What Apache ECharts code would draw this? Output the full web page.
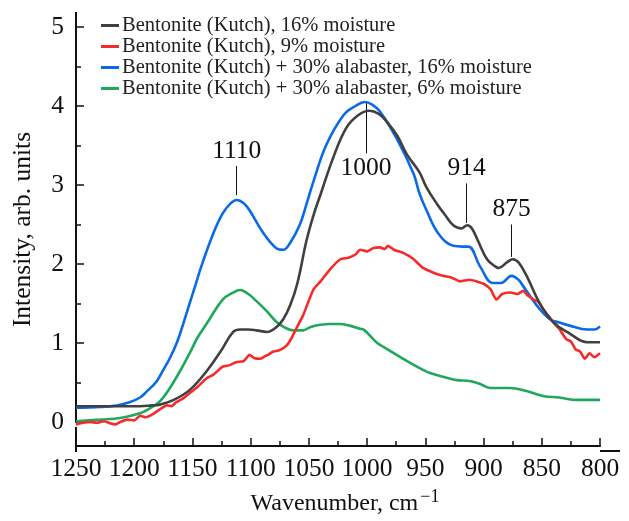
<!DOCTYPE html>
<html>
<head>
<meta charset="utf-8">
<script src="https://cdn.jsdelivr.net/npm/echarts@6/dist/echarts.min.js"></script>
<style>
  html, body { margin: 0; padding: 0; background: #fff; }
  #chart { width: 629px; height: 521px; }
</style>
</head>
<body>
<div id="chart"></div>
<script>
// series names
const seriesNames = [
  'Bentonite (Kutch), 16% moisture',
  'Bentonite (Kutch), 9% moisture',
  'Bentonite (Kutch) + 30% alabaster, 16% moisture',
  'Bentonite (Kutch) + 30% alabaster, 6% moisture',
];

// Bentonite 16% moisture (dark grey)
const kutch16Wn = [1250, 1230, 1210, 1195, 1185, 1178, 1166, 1152, 1138, 1126, 1115, 1109, 1102, 1095, 1086, 1078, 1072, 1066, 1060, 1052, 1046, 1040, 1029, 1018, 1008, 998, 990, 983, 974, 966, 955, 949, 940, 933, 926, 919, 914, 910, 905, 897, 890, 887, 880, 875, 870, 863, 852, 840, 826, 811, 800];
const kutch16Val = [0.20, 0.20, 0.20, 0.20, 0.21, 0.22, 0.28, 0.41, 0.64, 0.89, 1.14, 1.17, 1.17, 1.16, 1.14, 1.20, 1.30, 1.48, 1.75, 2.30, 2.62, 2.88, 3.35, 3.72, 3.88, 3.94, 3.90, 3.80, 3.62, 3.39, 3.16, 2.97, 2.76, 2.62, 2.49, 2.45, 2.49, 2.45, 2.30, 2.06, 1.97, 1.95, 2.02, 2.06, 2.02, 1.85, 1.51, 1.26, 1.12, 1.01, 1.01];

// Bentonite 9% moisture (red, noisy)
const kutch9Wn = [1250, 1244, 1238, 1232, 1226, 1220, 1216, 1212, 1206, 1200, 1195, 1190, 1184, 1178, 1172, 1168, 1164, 1158, 1152, 1146, 1138, 1132, 1124, 1118, 1112, 1106, 1101, 1097, 1092, 1088, 1084, 1081, 1075, 1069, 1065, 1061, 1055, 1046, 1040, 1032, 1023, 1016, 1010, 1006, 1000, 995, 989, 985, 982, 977, 969, 960, 952, 943, 935, 928, 920, 912, 906, 900, 894, 889, 884, 877, 871, 866, 862, 857, 853, 849, 844, 840, 835, 829, 825, 821, 817, 813, 809, 805, 800];
const kutch9Val = [-0.03, -0.01, 0.00, -0.01, 0.01, -0.02, -0.03, 0.00, 0.03, 0.02, 0.08, 0.06, 0.10, 0.16, 0.21, 0.20, 0.25, 0.30, 0.37, 0.44, 0.55, 0.60, 0.70, 0.72, 0.76, 0.77, 0.85, 0.81, 0.80, 0.83, 0.86, 0.89, 0.91, 0.97, 1.06, 1.18, 1.35, 1.68, 1.78, 1.93, 2.06, 2.08, 2.12, 2.18, 2.16, 2.20, 2.21, 2.19, 2.23, 2.18, 2.14, 2.06, 1.95, 1.89, 1.85, 1.83, 1.78, 1.80, 1.78, 1.75, 1.68, 1.55, 1.62, 1.64, 1.62, 1.66, 1.60, 1.55, 1.52, 1.43, 1.34, 1.26, 1.18, 1.05, 1.02, 0.92, 0.89, 0.80, 0.87, 0.82, 0.87];

// Bentonite + 30% alabaster, 16% moisture (blue)
const alab16Wn = [1250, 1229, 1215, 1204, 1195, 1189, 1181, 1175, 1169, 1163, 1158, 1149, 1141, 1132, 1124, 1117, 1112, 1106, 1101, 1089, 1078, 1072, 1066, 1058, 1052, 1046, 1035, 1020, 1010, 1002, 996, 989, 975, 960, 955, 949, 939, 926, 918, 913, 903, 892, 885, 876, 870, 866, 854, 843, 835, 826, 811, 805, 800];
const alab16Val = [0.18, 0.19, 0.21, 0.25, 0.31, 0.39, 0.51, 0.66, 0.82, 1.02, 1.24, 1.66, 2.03, 2.39, 2.64, 2.77, 2.81, 2.77, 2.68, 2.39, 2.20, 2.18, 2.27, 2.49, 2.76, 3.05, 3.51, 3.89, 4.00, 4.05, 4.02, 3.93, 3.60, 3.14, 2.89, 2.68, 2.39, 2.23, 2.22, 2.22, 1.97, 1.76, 1.76, 1.85, 1.80, 1.72, 1.47, 1.30, 1.26, 1.22, 1.17, 1.17, 1.21];

// Bentonite + 30% alabaster, 6% moisture (green)
const alab6Wn = [1250, 1229, 1212, 1195, 1188, 1178, 1166, 1152, 1146, 1138, 1124, 1116, 1109, 1102, 1095, 1086, 1078, 1070, 1063, 1055, 1049, 1040, 1032, 1024, 1015, 1006, 1003, 998, 992, 986, 969, 952, 946, 929, 923, 912, 903, 894, 877, 865, 849, 835, 820, 800];
const alab6Val = [0.01, 0.03, 0.05, 0.11, 0.16, 0.26, 0.51, 0.88, 1.06, 1.24, 1.55, 1.63, 1.67, 1.62, 1.53, 1.40, 1.27, 1.19, 1.16, 1.16, 1.20, 1.23, 1.24, 1.24, 1.22, 1.18, 1.17, 1.10, 1.01, 0.95, 0.80, 0.66, 0.62, 0.55, 0.53, 0.52, 0.48, 0.43, 0.43, 0.40, 0.33, 0.31, 0.28, 0.28];

// peak annotations: label, wavenumber, leader line from/to (intensity)
const peakLabels = ['1110', '1000', '914', '875'];
const peakWn = [1112, 1001, 914.6, 875.8];
const peakFrom = [2.87, 4.04, 2.52, 2.09];
const peakTo = [3.24, 3.40, 3.02, 2.50];
const peakSeries = [2, 2, 0, 0];

const colors = ['#404040', '#f52a2a', '#0a6ae6', '#1fa85c'];
const wnLists = [kutch16Wn, kutch9Wn, alab16Wn, alab6Wn];
const valLists = [kutch16Val, kutch9Val, alab16Val, alab6Val];

const font = 'Liberation Serif';
const grid = { left: 76, right: 29, top: 27, bottom: 94 };
const W = 629, H = 521;
const axisY = H - grid.bottom + 24;

const chart = echarts.init(document.getElementById('chart'), null, { renderer: 'canvas' });

const series = seriesNames.map((name, i) => {
  const marks = peakLabels
    .map((lab, k) => ({ lab, k }))
    .filter(p => peakSeries[p.k] === i)
    .map(p => [
      { coord: [peakWn[p.k], peakFrom[p.k]] },
      { coord: [peakWn[p.k], peakTo[p.k]], label: { formatter: p.lab } },
    ]);
  return {
    name,
    type: 'line',
    data: wnLists[i].map((x, j) => [x, valLists[i][j]]),
    showSymbol: false,
    smooth: i === 1 ? 0.2 : 0.4,
    clip: false,
    color: colors[i],
    lineStyle: { width: 2.6, color: colors[i] },
    z: 10 - i,
    markLine: marks.length ? {
      silent: true,
      symbol: 'none',
      animation: false,
      lineStyle: { color: '#111', width: 1, type: 'solid' },
      label: {
        position: 'end',
        distance: 2,
        fontFamily: font,
        fontSize: 25.5,
        color: '#111',
      },
      data: marks,
    } : undefined,
  };
});

chart.setOption({
  animation: false,
  textStyle: { fontFamily: font },
  grid: grid,
  legend: {
    orient: 'vertical',
    left: 96,
    top: 10,
    itemWidth: 18,
    itemHeight: 3,
    itemGap: 0,
    icon: 'rect',
    textStyle: { fontFamily: font, fontSize: 20.5, color: '#222', lineHeight: 21, padding: [0, 0, 0, -2] },
    data: seriesNames,
  },
  xAxis: {
    type: 'value',
    inverse: true,
    min: 800,
    max: 1250,
    interval: 50,
    offset: 24,
    name: '{a|Wavenumber, cm}{s|\u22121}',
    nameLocation: 'middle',
    nameGap: 42,
    nameTextStyle: {
      padding: [0, 0, 0, 14],
      rich: {
        a: { fontFamily: font, fontSize: 24, color: '#111' },
        s: { fontFamily: font, fontSize: 18, color: '#111', padding: [0, 0, 14, 2] },
      },
    },
    axisLine: { show: true, onZero: false, lineStyle: { color: '#111', width: 2 } },
    axisTick: { show: true, inside: true, length: 8, lineStyle: { color: '#111', width: 1.5 } },
    minorTick: { show: true, splitNumber: 2, length: 5, lineStyle: { color: '#111', width: 1.5 } },
    axisLabel: { fontFamily: font, fontSize: 25.5, color: '#111', margin: 10, formatter: v => String(v) },
    splitLine: { show: false },
  },
  yAxis: {
    type: 'value',
    min: 0,
    max: 5,
    interval: 1,
    name: 'Intensity, arb. units',
    nameLocation: 'middle',
    nameGap: 40,
    nameTextStyle: { fontFamily: font, fontSize: 25.5, color: '#111', padding: [0, 10, 0, 0] },
    axisLine: { show: true, onZero: false, lineStyle: { color: '#111', width: 2 } },
    axisTick: { show: true, inside: true, length: 8, lineStyle: { color: '#111', width: 1.5 } },
    minorTick: { show: true, splitNumber: 2, length: 5, lineStyle: { color: '#111', width: 1.5 } },
    axisLabel: { fontFamily: font, fontSize: 25.5, color: '#111', margin: 12 },
    splitLine: { show: false },
  },
  graphic: [
    // axis line extensions beyond the labelled range
    { type: 'line', shape: { x1: grid.left, y1: 12, x2: grid.left, y2: grid.top }, style: { stroke: '#111', lineWidth: 2 } },
    { type: 'line', shape: { x1: grid.left, y1: H - grid.bottom, x2: grid.left, y2: axisY + 1 }, style: { stroke: '#111', lineWidth: 2 } },
    { type: 'line', shape: { x1: W - grid.right, y1: axisY, x2: 620, y2: axisY }, style: { stroke: '#111', lineWidth: 2 } },
  ],
  series,
});
</script>
</body>
</html>
